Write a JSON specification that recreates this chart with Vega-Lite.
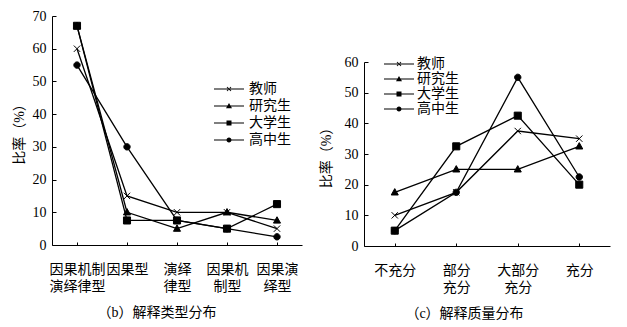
{
  "$schema": "https://vega.github.io/schema/vega-lite/v6.json",
  "background": "white",
  "padding": {"left": 12, "top": 9, "right": 5, "bottom": 5},
  "datasets": {
    "b": [
      {"group": "教师", "type": "因果机制|演绎律型", "pct": 60},
      {"group": "教师", "type": "因果型", "pct": 15},
      {"group": "教师", "type": "演绎|律型", "pct": 10},
      {"group": "教师", "type": "因果机|制型", "pct": 10},
      {"group": "教师", "type": "因果演|绎型", "pct": 5},
      {"group": "研究生", "type": "因果机制|演绎律型", "pct": 67},
      {"group": "研究生", "type": "因果型", "pct": 10},
      {"group": "研究生", "type": "演绎|律型", "pct": 5},
      {"group": "研究生", "type": "因果机|制型", "pct": 10},
      {"group": "研究生", "type": "因果演|绎型", "pct": 7.5},
      {"group": "大学生", "type": "因果机制|演绎律型", "pct": 67},
      {"group": "大学生", "type": "因果型", "pct": 7.5},
      {"group": "大学生", "type": "演绎|律型", "pct": 7.5},
      {"group": "大学生", "type": "因果机|制型", "pct": 5},
      {"group": "大学生", "type": "因果演|绎型", "pct": 12.5},
      {"group": "高中生", "type": "因果机制|演绎律型", "pct": 55},
      {"group": "高中生", "type": "因果型", "pct": 30},
      {"group": "高中生", "type": "演绎|律型", "pct": 7.5},
      {"group": "高中生", "type": "因果机|制型", "pct": 5},
      {"group": "高中生", "type": "因果演|绎型", "pct": 2.5}
    ],
    "c": [
      {"group": "教师", "quality": "不充分", "pct": 10},
      {"group": "教师", "quality": "部分|充分", "pct": 17.5},
      {"group": "教师", "quality": "大部分|充分", "pct": 37.5},
      {"group": "教师", "quality": "充分", "pct": 35},
      {"group": "研究生", "quality": "不充分", "pct": 17.5},
      {"group": "研究生", "quality": "部分|充分", "pct": 25},
      {"group": "研究生", "quality": "大部分|充分", "pct": 25},
      {"group": "研究生", "quality": "充分", "pct": 32.5},
      {"group": "大学生", "quality": "不充分", "pct": 5},
      {"group": "大学生", "quality": "部分|充分", "pct": 32.5},
      {"group": "大学生", "quality": "大部分|充分", "pct": 42.5},
      {"group": "大学生", "quality": "充分", "pct": 20},
      {"group": "高中生", "quality": "不充分", "pct": 5},
      {"group": "高中生", "quality": "部分|充分", "pct": 17.5},
      {"group": "高中生", "quality": "大部分|充分", "pct": 55},
      {"group": "高中生", "quality": "充分", "pct": 22.5}
    ]
  },
  "hconcat": [
    {
      "width": 250,
      "height": 229,
      "data": {"name": "b"},
      "title": {"text": "（b）解释类型分布", "orient": "bottom", "frame": "bounds", "anchor": "middle", "offset": 13},
      "encoding": {
        "x": {
          "field": "type", "type": "nominal",
          "sort": ["因果机制|演绎律型", "因果型", "演绎|律型", "因果机|制型", "因果演|绎型"],
          "scale": {"type": "point", "padding": 0.5},
          "axis": {"title": null, "labelAngle": 0, "labelExpr": "split(datum.label, '|')", "labelLineHeight": 17, "labelBaseline": "top", "tickSize": -3, "labelPadding": 20}
        },
        "y": {
          "field": "pct", "type": "quantitative",
          "scale": {"domain": [0, 70], "nice": false},
          "axis": {"values": [0, 10, 20, 30, 40, 50, 60, 70], "title": "比率（%）", "tickSize": -4, "labelPadding": 10, "titlePadding": 6}
        }
      },
      "layer": [
        {"mark": {"type": "line", "color": "black", "strokeWidth": 1.3}, "encoding": {"detail": {"field": "group"}, "order": {"value": null}}},
        {
          "mark": {"type": "point", "filled": true, "color": "black", "stroke": "black", "strokeWidth": 1, "size": 50, "opacity": 1},
          "encoding": {
            "shape": {
              "field": "group", "type": "nominal",
              "scale": {"domain": ["教师", "研究生", "大学生", "高中生"], "range": ["M-0.9,-0.9L0.9,0.9M-0.9,0.9L0.9,-0.9", "M0,-1.05L1,0.75H-1Z", "M-1,-1H1V1H-1Z", "M-0.9,0A0.9,0.9,0,1,1,0.9,0A0.9,0.9,0,1,1,-0.9,0Z"]},
              "legend": null
            }
          }
        },
        {
          "transform": [{"filter": "false"}],
          "mark": {"type": "point", "filled": true, "color": "black", "opacity": 1},
          "encoding": {
            "shape": {
              "field": "group", "type": "nominal",
              "scale": {"domain": ["教师", "研究生", "大学生", "高中生"], "range": ["M-3,-0.11H3V0.11H-3ZM-0.33,-0.47L0.47,0.33L0.33,0.47L-0.47,-0.33ZM-0.33,0.47L0.47,-0.33L0.33,-0.47L-0.47,0.33Z", "M-3,-0.11H3V0.11H-3ZM0,-0.6L0.6,0.45H-0.6Z", "M-3,-0.11H3V0.11H-3ZM-0.5,-0.5H0.5V0.5H-0.5Z", "M-3,-0.11H3V0.11H-3ZM-0.5,0A0.5,0.5,0,1,1,0.5,0A0.5,0.5,0,1,1,-0.5,0Z"]},
              "legend": {
                "orient": "none", "legendX": 170, "legendY": 66, "title": null,
                "symbolSize": 100, "symbolFillColor": "black", "symbolOpacity": 1,
                "labelFontSize": 14, "labelOffset": 13, "rowPadding": 3
              }
            }
          }
        }
      ],
      "resolve": {"scale": {"shape": "independent"}, "legend": {"shape": "independent"}}
    },
    {
      "vconcat": [
        {"width": 246, "height": 26, "data": {"values": []}, "mark": "point"},
        {
          "width": 246,
          "height": 184,
          "data": {"name": "c"},
          "title": {"text": "（c）解释质量分布", "orient": "bottom", "frame": "bounds", "anchor": "middle", "offset": 13},
          "encoding": {
            "x": {
              "field": "quality", "type": "nominal",
              "sort": ["不充分", "部分|充分", "大部分|充分", "充分"],
              "scale": {"type": "point", "padding": 0.5},
              "axis": {"title": null, "labelAngle": 0, "labelExpr": "split(datum.label, '|')", "labelLineHeight": 17, "labelBaseline": "top", "tickSize": -3, "labelPadding": 20}
            },
            "y": {
              "field": "pct", "type": "quantitative",
              "scale": {"domain": [0, 60], "nice": false},
              "axis": {"values": [0, 10, 20, 30, 40, 50, 60], "title": "比率（%）", "tickSize": -4, "labelPadding": 10, "titlePadding": 11}
            }
          },
          "layer": [
            {"mark": {"type": "line", "color": "black", "strokeWidth": 1.3}, "encoding": {"detail": {"field": "group"}, "order": {"value": null}}},
            {
              "mark": {"type": "point", "filled": true, "color": "black", "stroke": "black", "strokeWidth": 1, "size": 50, "opacity": 1},
              "encoding": {
                "shape": {
                  "field": "group", "type": "nominal",
                  "scale": {"domain": ["教师", "研究生", "大学生", "高中生"], "range": ["M-0.9,-0.9L0.9,0.9M-0.9,0.9L0.9,-0.9", "M0,-1.05L1,0.75H-1Z", "M-1,-1H1V1H-1Z", "M-0.9,0A0.9,0.9,0,1,1,0.9,0A0.9,0.9,0,1,1,-0.9,0Z"]},
                  "legend": null
                }
              }
            },
            {
              "transform": [{"filter": "false"}],
              "mark": {"type": "point", "filled": true, "color": "black", "opacity": 1},
              "encoding": {
                "shape": {
                  "field": "group", "type": "nominal",
                  "scale": {"domain": ["教师", "研究生", "大学生", "高中生"], "range": ["M-3,-0.11H3V0.11H-3ZM-0.33,-0.47L0.47,0.33L0.33,0.47L-0.47,-0.33ZM-0.33,0.47L0.47,-0.33L0.33,-0.47L-0.47,0.33Z", "M-3,-0.11H3V0.11H-3ZM0,-0.6L0.6,0.45H-0.6Z", "M-3,-0.11H3V0.11H-3ZM-0.5,-0.5H0.5V0.5H-0.5Z", "M-3,-0.11H3V0.11H-3ZM-0.5,0A0.5,0.5,0,1,1,0.5,0A0.5,0.5,0,1,1,-0.5,0Z"]},
                  "legend": {
                    "orient": "none", "legendX": 28, "legendY": -5, "title": null,
                    "symbolSize": 100, "symbolFillColor": "black", "symbolOpacity": 1,
                    "labelFontSize": 14, "labelOffset": 11, "rowPadding": 1
                  }
                }
              }
            }
          ],
          "resolve": {"scale": {"shape": "independent"}, "legend": {"shape": "independent"}}
        }
      ],
      "spacing": 20,
      "bounds": "flush",
      "resolve": {"scale": {"shape": "independent"}, "legend": {"shape": "independent"}}
    }
  ],
  "spacing": 62,
  "bounds": "flush",
  "resolve": {"scale": {"shape": "independent"}, "legend": {"shape": "independent"}},
  "config": {
    "view": {"stroke": null},
    "font": "Liberation Serif, Noto Sans CJK SC",
    "axis": {
      "domainColor": "black", "tickColor": "black", "labelColor": "black", "titleColor": "black",
      "labelFont": "Liberation Serif, Noto Sans CJK SC", "titleFont": "Liberation Serif, Noto Sans CJK SC",
      "labelFontSize": 14, "titleFontSize": 14, "titleFontWeight": "normal", "grid": false,
      "domainWidth": 1, "tickWidth": 1
    },
    "legend": {"labelFont": "Liberation Serif, Noto Sans CJK SC", "labelColor": "black"},
    "title": {"font": "Liberation Serif, Noto Sans CJK SC", "fontSize": 14, "fontWeight": "normal", "color": "black"}
  }
}
